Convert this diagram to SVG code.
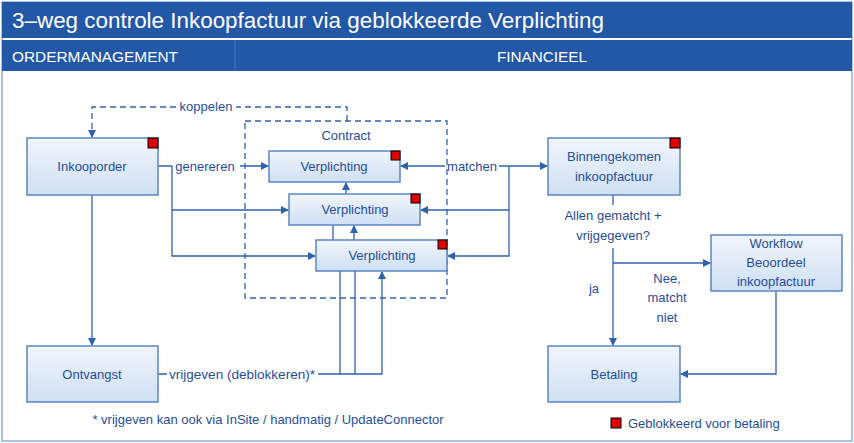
<svg xmlns="http://www.w3.org/2000/svg" width="854" height="443" viewBox="0 0 854 443">
<defs>
<linearGradient id="g" x1="0" y1="0" x2="0" y2="1"><stop offset="0" stop-color="#f1f5fc"/><stop offset="1" stop-color="#cfdff3"/></linearGradient>
<marker id="a" markerWidth="8" markerHeight="8" refX="7" refY="4" orient="auto" markerUnits="userSpaceOnUse"><path d="M0,0 L8,4 L0,8 z" fill="#2e62ad"/></marker>
<style>
.box{fill:url(#g);stroke:#5b86c4;stroke-width:1.5}
.red{fill:#e00000;stroke:#000;stroke-width:1}
.t{font-family:"Liberation Sans",Arial,sans-serif;font-size:13px;fill:#1f4e9c;text-anchor:middle}
.s{text-anchor:start}
.l{fill:none;stroke:#2e62ad;stroke-width:1.3}
.d{fill:none;stroke:#2e62ad;stroke-width:1.3;stroke-dasharray:6,4}
.h{font-family:"Liberation Sans",Arial,sans-serif;fill:#fff}
</style>
</defs>
<rect x="0" y="0" width="854" height="443" fill="#fff"/>
<rect x="2" y="2" width="850" height="439" fill="none" stroke="#8fb0dc" stroke-width="1.5"/>
<rect x="2" y="2" width="850" height="36" fill="#2358a6"/>
<rect x="2" y="40" width="850" height="31" fill="#2358a6"/>
<line x1="235" y1="40" x2="235" y2="71" stroke="#4a78bd" stroke-width="1"/>
<text class="h" x="12" y="28" font-size="22" textLength="592" lengthAdjust="spacingAndGlyphs">3–weg controle Inkoopfactuur via geblokkeerde Verplichting</text>
<text class="h" x="12" y="62" font-size="15" textLength="166" lengthAdjust="spacingAndGlyphs">ORDERMANAGEMENT</text>
<text class="h" x="542" y="62" font-size="15" text-anchor="middle" textLength="90" lengthAdjust="spacingAndGlyphs">FINANCIEEL</text>

<g id="connectors">
<rect class="d" x="245" y="121" width="202" height="177"/>
<path class="d" d="M347,121 V107 H236 M176,107 H92 V137" marker-end="url(#a)"/>
<path class="l" d="M158,166 H172 M240,166 H268" marker-end="url(#a)"/>
<path class="l" d="M172,166 V256 H315" marker-end="url(#a)"/>
<path class="l" d="M172,210 H288" marker-end="url(#a)"/>
<path class="l" d="M92,195 V345" marker-end="url(#a)"/>
<path class="l" d="M499,166 H547" marker-end="url(#a)"/>
<path class="l" d="M445,166 H401" marker-end="url(#a)"/>
<path class="l" d="M509,166 V256 H448" marker-end="url(#a)"/>
<path class="l" d="M509,210 H421" marker-end="url(#a)"/>
<path class="l" d="M346,194 V183" marker-end="url(#a)"/>
<path class="l" d="M333,240 V225"/>
<path class="l" d="M354,240 V226" marker-end="url(#a)"/>
<path class="l" d="M158,374 H167 M318,374 H382 V272" marker-end="url(#a)"/>
<path class="l" d="M340,374 V271 M355,374 V271"/>
<path class="l" d="M613,195 V205 M613,248 V345" marker-end="url(#a)"/>
<path class="l" d="M613,263 H710" marker-end="url(#a)"/>
<path class="l" d="M776,291 V374 H681" marker-end="url(#a)"/>
</g>
<text class="t" x="206" y="111">koppelen</text>
<text class="t" x="346" y="140">Contract</text>
<text class="t" x="205" y="171">genereren</text>
<text class="t" x="472" y="171">matchen</text>
<text class="t" x="242" y="379" textLength="146" lengthAdjust="spacingAndGlyphs">vrijgeven (deblokkeren)*</text>
<text class="t" x="613" y="220">Allen gematcht +</text>
<text class="t" x="613" y="240">vrijgegeven?</text>
<text class="t" x="594" y="293">ja</text>
<text class="t" x="667" y="283">Nee,</text>
<text class="t" x="667" y="302">matcht</text>
<text class="t" x="667" y="322">niet</text>
<text class="t" x="268" y="424">* vrijgeven kan ook via InSite / handmatig / UpdateConnector</text>

<g id="inkooporder"><rect class="box" x="27" y="138" width="131" height="57"/><rect class="red" x="148" y="138" width="10" height="10"/><text class="t" x="92" y="171">Inkooporder</text></g>
<g id="verpl1"><rect class="box" x="269" y="151" width="131" height="31"/><rect class="red" x="391" y="151" width="9" height="9"/><text class="t" x="334" y="171">Verplichting</text></g>
<g id="verpl2"><rect class="box" x="289" y="194" width="131" height="31"/><rect class="red" x="411" y="194" width="9" height="9"/><text class="t" x="355" y="214">Verplichting</text></g>
<g id="verpl3"><rect class="box" x="316" y="240" width="131" height="31"/><rect class="red" x="438" y="240" width="9" height="9"/><text class="t" x="382" y="260">Verplichting</text></g>
<g id="binnengekomen"><rect class="box" x="548" y="138" width="132" height="57"/><rect class="red" x="670" y="138" width="10" height="10"/><text class="t" x="614" y="161">Binnengekomen</text><text class="t" x="614" y="181">inkoopfactuur</text></g>
<g id="workflow"><rect class="box" x="711" y="235" width="131" height="56"/><text class="t" x="776" y="248">Workflow</text><text class="t" x="776" y="267">Beoordeel</text><text class="t" x="776" y="286">inkoopfactuur</text></g>
<g id="ontvangst"><rect class="box" x="27" y="346" width="131" height="56"/><text class="t" x="92" y="379">Ontvangst</text></g>
<g id="betaling"><rect class="box" x="548" y="346" width="132" height="56"/><text class="t" x="614" y="379">Betaling</text></g>
<g id="legend"><rect class="red" x="611" y="418" width="10" height="10"/><text class="t s" x="628" y="428">Geblokkeerd voor betaling</text></g>
</svg>
